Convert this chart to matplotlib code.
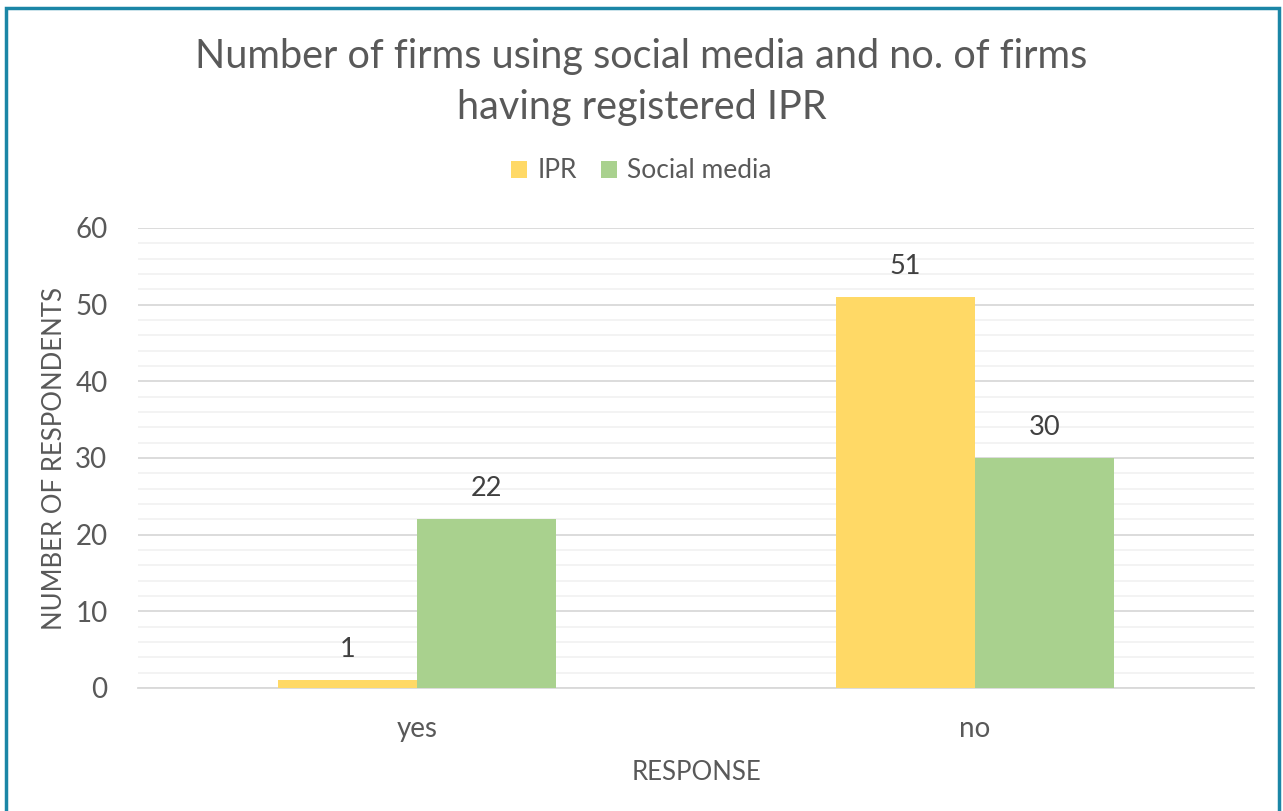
import matplotlib
matplotlib.use("Agg")
import matplotlib.pyplot as plt
import numpy as np
from matplotlib.patches import Rectangle
from matplotlib.ticker import MultipleLocator

responses = ["yes", "no"]
ipr = [1, 51]
social_media = [22, 30]

TXT = "#595959"
plt.rcParams["font.family"] = ["Lato", "DejaVu Sans"]

fig = plt.figure(figsize=(12.83, 8.11), dpi=100)
ax = fig.add_axes([138 / 1283, 1 - 688 / 811, 1116 / 1283, 460 / 811])

x = np.arange(len(responses))
w = 0.249
b1 = ax.bar(x - w / 2, ipr, w, color="#FFD966", label="IPR", zorder=3)
b2 = ax.bar(x + w / 2, social_media, w, color="#A9D18E", label="Social media", zorder=3)
for bars in (b1, b2):
    ax.bar_label(bars, padding=13, fontsize=19.5, color="#404040")

ax.set_xlim(-0.5, 1.5)
ax.set_ylim(0, 60)
ax.yaxis.set_major_locator(MultipleLocator(10))
ax.yaxis.set_minor_locator(MultipleLocator(2))
ax.grid(axis="y", which="major", color="#D9D9D9", lw=1.3, zorder=0)
ax.grid(axis="y", which="minor", color="#F2F2F2", lw=1.3, zorder=0)
ax.set_xticks(x, responses)
ax.tick_params(length=0, labelsize=20, labelcolor=TXT, which="both")
ax.tick_params(axis="x", pad=20)
ax.tick_params(axis="y", pad=22)
for s in ("top", "right", "left"):
    ax.spines[s].set_visible(False)
ax.spines["bottom"].set_color("#D9D9D9")
ax.spines["bottom"].set_linewidth(1.3)

ax.set_xlabel("RESPONSE", fontsize=18.5, color=TXT, labelpad=13)
ax.set_ylabel("NUMBER OF RESPONDENTS", fontsize=18.5, color=TXT, labelpad=6)

fig.text(0.5, 1 - 82 / 811,
         "Number of firms using social media and no. of firms\nhaving registered IPR",
         ha="center", va="center", fontsize=28.5, color=TXT, linespacing=1.45)
fig.legend(loc="center", bbox_to_anchor=(0.5, 1 - 171 / 811), ncol=2, frameon=False,
           fontsize=19, labelcolor=TXT, handlelength=0.6, handleheight=0.6,
           handletextpad=0.4, columnspacing=0.9)

# outer frame of the chart area
fig.patches.append(Rectangle((6 / 1283, -0.05), 1273 / 1283, 1.05 - 8 / 811,
                             transform=fig.transFigure, fill=False,
                             edgecolor="#1B86A6", lw=2.5))

fig.savefig("out.png", dpi=100)
